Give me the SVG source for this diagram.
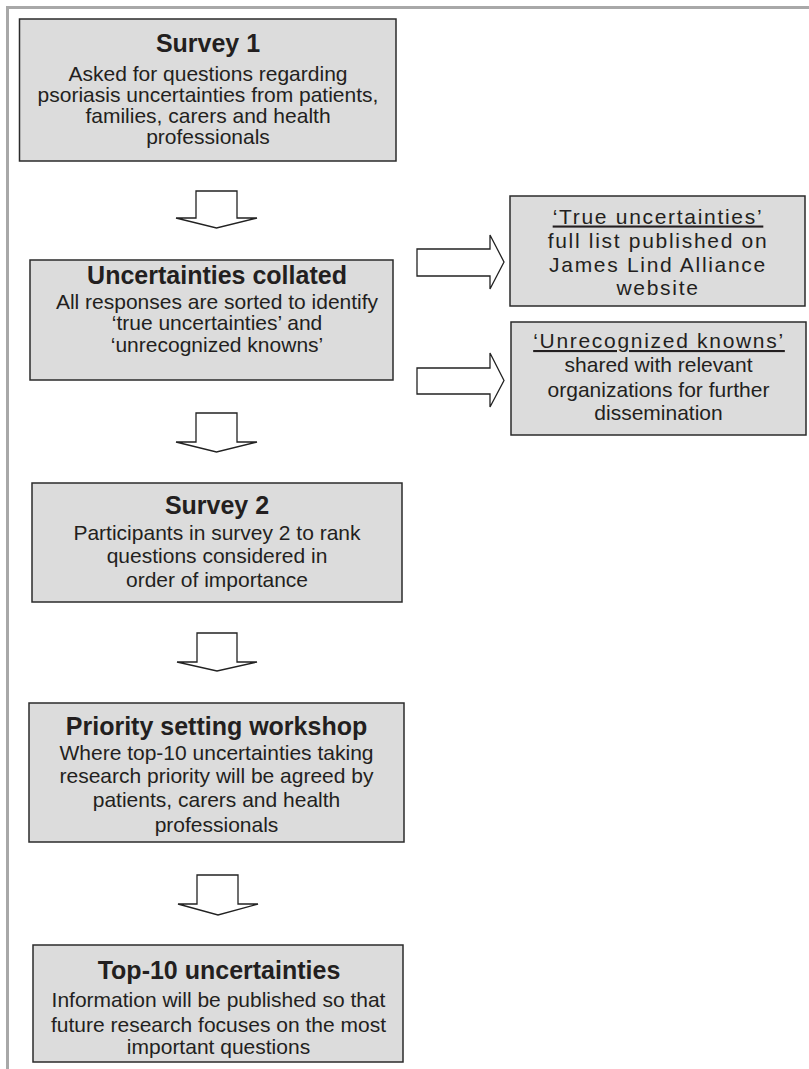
<svg xmlns="http://www.w3.org/2000/svg" width="809" height="1069" viewBox="0 0 809 1069">
<style>
.box{fill:#dcdcdc;stroke:#2b2b2b;stroke-width:1.5}
.arr{fill:#ffffff;stroke:#222;stroke-width:1.3;stroke-linejoin:miter}
.t{font-family:"Liberation Sans",Arial,sans-serif;font-weight:bold;font-size:25px;fill:#231f20;text-anchor:middle}
.b{font-family:"Liberation Sans",Arial,sans-serif;font-size:21px;fill:#231f20;text-anchor:middle}
.s{letter-spacing:1.7px}
.u{text-decoration:underline}
</style>
<rect width="809" height="1069" fill="#ffffff"/>
<path d="M7.5,1069 V7.5 H809" fill="none" stroke="#a8a8a8" stroke-width="3"/>
<g id="survey1">
<rect class="box" x="19.5" y="19" width="376.5" height="142"/>
<text class="t" x="208" y="52">Survey 1</text>
<text class="b" x="208" y="80.5">Asked for questions regarding</text>
<text class="b" x="208" y="101.5">psoriasis uncertainties from patients,</text>
<text class="b" x="208" y="122.5">families, carers and health</text>
<text class="b" x="208" y="143.5">professionals</text>
</g>
<g id="collated">
<rect class="box" x="30" y="260" width="363" height="120"/>
<text class="t" x="217" y="283.5">Uncertainties collated</text>
<text class="b" x="217" y="308.5">All responses are sorted to identify</text>
<text class="b" x="217" y="330">‘true uncertainties’ and</text>
<text class="b" x="217" y="351.5">‘unrecognized knowns’</text>
</g>
<g id="trueunc">
<rect class="box" x="510" y="196" width="295" height="110"/>
<text class="b s u" x="658" y="223.5">‘True uncertainties’</text>
<text class="b s" x="658" y="248">full list published on</text>
<text class="b s" x="658" y="272">James Lind Alliance</text>
<text class="b s" x="658" y="294.5">website</text>
</g>
<g id="unrecog">
<rect class="box" x="511" y="322" width="295" height="113"/>
<text class="b s u" x="659" y="348">‘Unrecognized knowns’</text>
<text class="b" x="658.5" y="372">shared with relevant</text>
<text class="b" x="658.5" y="396.5">organizations for further</text>
<text class="b" x="658.5" y="420">dissemination</text>
</g>
<g id="survey2">
<rect class="box" x="32" y="483" width="370" height="119"/>
<text class="t" x="217" y="514">Survey 2</text>
<text class="b" x="217" y="540">Participants in survey 2 to rank</text>
<text class="b" x="217" y="563">questions considered in</text>
<text class="b" x="217" y="587">order of importance</text>
</g>
<g id="workshop">
<rect class="box" x="29" y="703" width="375" height="139"/>
<text class="t" x="216.5" y="735">Priority setting workshop</text>
<text class="b" x="216.5" y="760">Where top-10 uncertainties taking</text>
<text class="b" x="216.5" y="782.5">research priority will be agreed by</text>
<text class="b" x="216.5" y="807">patients, carers and health</text>
<text class="b" x="216.5" y="832">professionals</text>
</g>
<g id="top10">
<rect class="box" x="33" y="945" width="370" height="117"/>
<text class="t" x="219" y="978.5">Top-10 uncertainties</text>
<text class="b" x="218.5" y="1007">Information will be published so that</text>
<text class="b" x="218.5" y="1031.5">future research focuses on the most</text>
<text class="b" x="218.5" y="1053.5">important questions</text>
</g>
<g id="connectors">
<path class="arr" d="M196,191 H237 V218 H257 L216.5,228 L176,218 H196 Z"/>
<path class="arr" d="M196,413 H237 V442 H257 L216.5,452 L176,442 H196 Z"/>
<path class="arr" d="M197,633 H237 V662 H257 L217,671 L177,662 H197 Z"/>
<path class="arr" d="M197,875 H238 V904 H258 L218,915 L178,904 H197 Z"/>
<path class="arr" d="M417,249 H490 V235 L504,262 L490,289 V276 H417 Z"/>
<path class="arr" d="M417,368 H490 V353 L504,380.5 L490,407 V394 H417 Z"/>
</g>
</svg>
